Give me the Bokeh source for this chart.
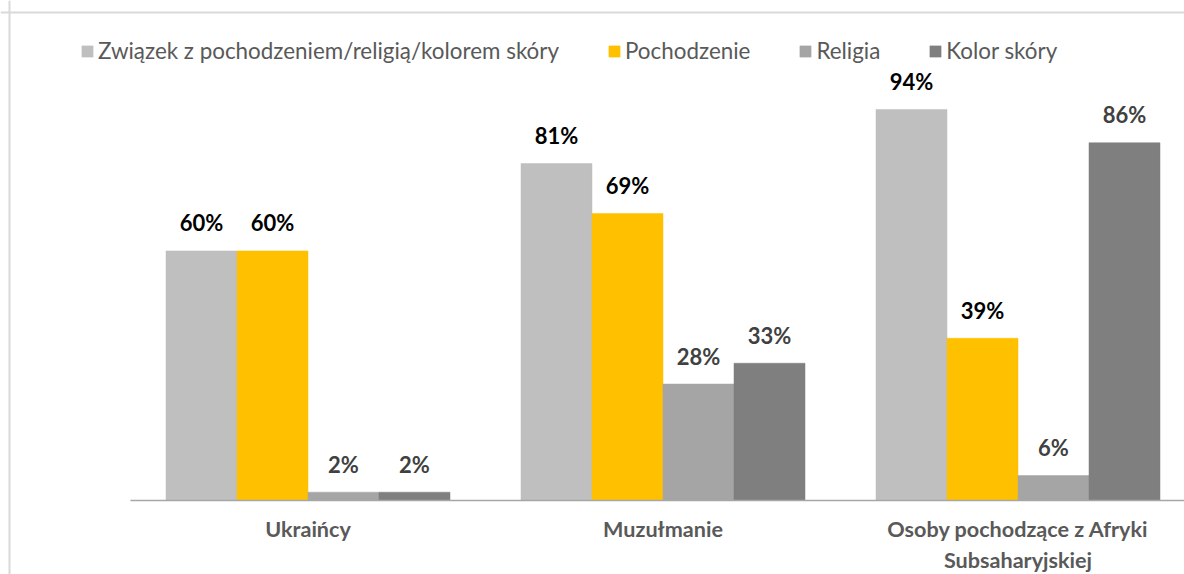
from bokeh.plotting import figure
from bokeh.models import Range1d, ColumnDataSource, LabelSet, Legend, LegendItem, FixedTicker, Span
from bokeh.embed import file_html
from bokeh.resources import INLINE
from bokeh.core.properties import value

categories = ["Ukraińcy", "Muzułmanie", "Osoby pochodzące z Afryki\nSubsaharyjskiej"]
series = ["Związek z pochodzeniem/religią/kolorem skóry", "Pochodzenie", "Religia", "Kolor skóry"]
zwiazek = [60, 81, 94]
pochodzenie = [60, 69, 39]
religia = [2, 28, 6]
kolor = [2, 33, 86]
values = [zwiazek, pochodzenie, religia, kolor]
colors = ["#bfbfbf", "#ffc000", "#a5a5a5", "#7f7f7f"]
label_colors = ["#000000", "#000000", "#404040", "#404040"]

FONT = "Lato"
BAR_W = 0.2
W, H = 1184, 574
PX_X = 355.0      # pixels per category
PX_Y = 4.16       # pixels per percent
X0_PX, Y0_PX = 130, 500   # pixel position of data origin

x_range = Range1d(-X0_PX / PX_X, (W - X0_PX) / PX_X)
y_range = Range1d(-(H - Y0_PX) / PX_Y, Y0_PX / PX_Y)

p = figure(width=W, height=H, output_backend="svg", toolbar_location=None,
           x_range=x_range, y_range=y_range,
           min_border_left=0, min_border_right=0, min_border_top=0, min_border_bottom=0)

# chart-area border (top and left visible)
p.add_layout(Span(location=(Y0_PX - 12) / PX_Y, dimension="width", line_color="#d9d9d9", line_width=2))
p.add_layout(Span(location=(9 - X0_PX) / PX_X, dimension="height", line_color="#d9d9d9", line_width=2))

items = []
for i, (name, vals) in enumerate(zip(series, values)):
    xs = [j + 0.5 + (i - 1.5) * BAR_W for j in range(len(categories))]
    src = ColumnDataSource(dict(x=xs, top=vals, lab=[f"{v}%" for v in vals]))
    r = p.vbar(x="x", top="top", width=BAR_W, source=src,
               fill_color=colors[i], line_color=colors[i], line_width=0.5)
    items.append(LegendItem(label=name, renderers=[r]))
    p.add_layout(LabelSet(x="x", y="top", text="lab", source=src,
                          text_align="center", text_baseline="middle", y_offset=28,
                          text_font=value(FONT), text_font_style="bold", text_font_size="22px",
                          text_color=label_colors[i]))

p.xaxis.fixed_location = 0
p.xaxis.bounds = (0, x_range.end)
p.xaxis.ticker = FixedTicker(ticks=[j + 0.5 for j in range(len(categories))])
p.xaxis.major_label_overrides = {j + 0.5: c for j, c in enumerate(categories)}
p.xaxis.axis_line_color = "#a6a6a6"
p.xaxis.axis_line_width = 1.5
p.xaxis.major_tick_line_color = None
p.xaxis.minor_tick_line_color = None
p.xaxis.major_label_text_font = FONT
p.xaxis.major_label_text_font_style = "bold"
p.xaxis.major_label_text_font_size = "21.6px"
p.xaxis.major_label_text_color = "#595959"
p.xaxis.major_label_standoff = 9
p.yaxis.visible = False
p.xgrid.grid_line_color = None
p.ygrid.grid_line_color = None
p.outline_line_color = None

legend = Legend(items=items, orientation="horizontal", location=(80, H - 64),
                glyph_width=14, glyph_height=14, label_standoff=4, spacing=48,
                padding=0, margin=0, border_line_color=None, background_fill_alpha=0,
                label_text_font=FONT, label_text_font_size="22.4px", label_text_color="#595959")
p.add_layout(legend)

open("out.html", "w").write(file_html(p, INLINE))
